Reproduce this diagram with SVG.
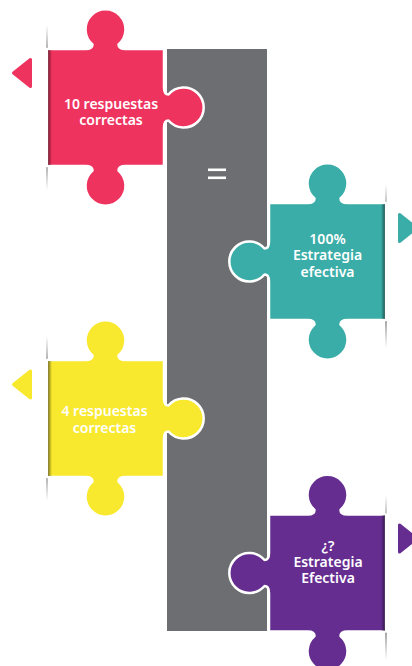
<svg xmlns="http://www.w3.org/2000/svg" width="412" height="666" viewBox="0 0 412 666">
  <style>
    .piece { stroke: #ffffff; stroke-width: 2.5; stroke-linejoin: round; }
    .lbl { font-family: "Noto Sans", "Open Sans", sans-serif; font-weight: 600; font-size: 14px; fill: #ffffff; text-anchor: middle; }
    .arrow { stroke-width: 3; stroke-linejoin: round; }
  </style>
  <defs>
    <path id="puzzle" d="M -58.5 -58.5 L -20 -58.5 Q -13 -58.5 -13 -63 A 20 20 0 1 1 13 -63 Q 13 -58.5 20 -58.5 L 58.5 -58.5 L 58.5 -20 Q 58.5 -13 63 -13 A 20 20 0 1 1 63 13 Q 58.5 13 58.5 20 L 58.5 58.5 L 20 58.5 Q 13 58.5 13 63 A 20 20 0 1 1 -13 63 Q -13 58.5 -20 58.5 L -58.5 58.5 Z"/>
    <linearGradient id="lineV" x1="0" y1="0" x2="0" y2="1">
      <stop offset="0" stop-color="#555" stop-opacity="0"/>
      <stop offset="0.2" stop-color="#555" stop-opacity="0.8"/>
      <stop offset="0.8" stop-color="#555" stop-opacity="0.8"/>
      <stop offset="1" stop-color="#555" stop-opacity="0"/>
    </linearGradient>
    <linearGradient id="shadeL" x1="0" y1="0" x2="1" y2="0">
      <stop offset="0" stop-color="#000" stop-opacity="0.5"/>
      <stop offset="1" stop-color="#000" stop-opacity="0"/>
    </linearGradient>
    <linearGradient id="shadeR" x1="1" y1="0" x2="0" y2="0">
      <stop offset="0" stop-color="#000" stop-opacity="0.5"/>
      <stop offset="1" stop-color="#000" stop-opacity="0"/>
    </linearGradient>
  </defs>

  <rect id="bar" x="167" y="49" width="100" height="582" fill="#6d6e71"/>
  <g id="equals" fill="#ffffff">
    <rect x="208" y="168.5" width="18" height="2.6"/>
    <rect x="208" y="176.5" width="18" height="2.6"/>
  </g>

  <g id="node-pink">
    <rect x="46.2" y="25" width="1.6" height="165" fill="url(#lineV)"/>
    <use href="#puzzle" class="piece" fill="#ef335f" transform="translate(105.5,107.5)"/>
    <rect x="48" y="50" width="4" height="115" fill="url(#shadeL)"/>
    <polygon class="arrow" points="13.5,73 30.5,59.5 30.5,86.5" fill="#ef335f" stroke="#ef335f"/>
    <text class="lbl" x="111" y="109">10 respuestas</text>
    <text class="lbl" x="111" y="125">correctas</text>
  </g>

  <g id="node-teal">
    <rect x="385.2" y="184" width="1.6" height="164" fill="url(#lineV)"/>
    <use href="#puzzle" class="piece" fill="#3aada8" transform="translate(327.5,261.5) scale(-1,1)"/>
    <rect x="381" y="204" width="4" height="115" fill="url(#shadeR)"/>
    <polygon class="arrow" points="399.5,214.5 399.5,241.5 416.5,228" fill="#3aada8" stroke="#3aada8"/>
    <text class="lbl" x="327.5" y="244">100%</text>
    <text class="lbl" x="327.5" y="260">Estrategia</text>
    <text class="lbl" x="327.5" y="277">efectiva</text>
  </g>

  <g id="node-yellow">
    <rect x="46.2" y="336" width="1.6" height="165" fill="url(#lineV)"/>
    <use href="#puzzle" class="piece" fill="#f8e92e" transform="translate(105.5,418.5)"/>
    <rect x="48" y="361" width="4" height="115" fill="url(#shadeL)"/>
    <polygon class="arrow" points="13.5,384.5 30.5,371 30.5,398" fill="#f8e92e" stroke="#f8e92e"/>
    <text class="lbl" x="104.5" y="416">4 respuestas</text>
    <text class="lbl" x="104.5" y="433">correctas</text>
  </g>

  <g id="node-purple">
    <rect x="385.2" y="495" width="1.6" height="165" fill="url(#lineV)"/>
    <use href="#puzzle" class="piece" fill="#662d91" transform="translate(327.5,573) scale(-1,1)"/>
    <rect x="381" y="515" width="4" height="116" fill="url(#shadeR)"/>
    <polygon class="arrow" points="399.5,525 399.5,552 416.5,538.5" fill="#662d91" stroke="#662d91"/>
    <text class="lbl" x="328" y="551">¿?</text>
    <text class="lbl" x="328" y="567">Estrategia</text>
    <text class="lbl" x="328" y="583">Efectiva</text>
  </g>

  <g id="connectors"></g>
</svg>
